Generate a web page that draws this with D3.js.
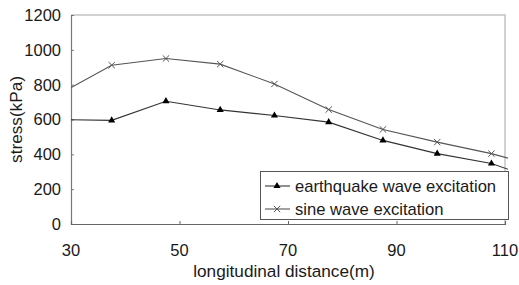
<!DOCTYPE html>
<html>
<head>
<meta charset="utf-8">
<script src="https://cdn.jsdelivr.net/npm/d3@7"></script>
<style>
  body { margin: 0; background: #fff; }
  text { font-family: "Liberation Sans", Arial, sans-serif; fill: #1a1a1a; }
</style>
</head>
<body>
<div id="chart"></div>
<script>
// distances (m) of the data points; first and last fall outside the axis and get clipped
const distances = [27.5, 37.5, 47.5, 57.5, 67.5, 77.5, 87.5, 97.5, 107.5, 117.5];
const earthquake = [600, 595, 705, 655, 623, 585, 480, 404, 347, 240];
const sine = [740, 912, 950, 918, 804, 657, 543, 470, 404, 320];
const xTicks = [30, 50, 70, 90, 110];
const yTicks = [0, 200, 400, 600, 800, 1000, 1200];
const seriesNames = ["earthquake wave excitation", "sine wave excitation"];

const width = 519, height = 285;
const margin = {top: 15, right: 14, bottom: 61, left: 71};

let svg = d3.select("#chart").append("svg")
    .attr("width", width)
    .attr("height", height);

let x = d3.scaleLinear().domain([30, 110]).range([margin.left, width - margin.right]);
let y = d3.scaleLinear().domain([0, 1200]).range([height - margin.bottom, margin.top]);

// frame: light top/right border
svg.append("path")
    .attr("d", "M" + x(30) + "," + y(1200) + "H" + x(110) + "V" + y(0))
    .attr("fill", "none")
    .attr("stroke", "#c4c4c4")
    .attr("stroke-width", 1.5);

let yAxis = svg.append("g")
    .attr("transform", "translate(" + margin.left + ",0)")
    .call(d3.axisRight(y).tickValues(yTicks).tickSize(3).tickFormat(""));
yAxis.select(".domain").attr("stroke", "#777").attr("stroke-width", 1.2);
yAxis.selectAll(".tick line").attr("stroke", "#777");

let xAxis = svg.append("g")
    .attr("transform", "translate(0," + y(0) + ")")
    .call(d3.axisTop(x).tickValues(xTicks).tickSize(3).tickFormat(""));
xAxis.select(".domain").attr("stroke", "#666").attr("stroke-width", 1.2);
xAxis.selectAll(".tick line").attr("stroke", "#666");

// tick labels
svg.selectAll(".ylab").data(yTicks).enter().append("text")
    .attr("class", "ylab")
    .attr("x", 61)
    .attr("y", d => y(d))
    .attr("dy", "0.36em")
    .attr("text-anchor", "end")
    .attr("font-size", 16.5)
    .text(d => d);

svg.selectAll(".xlab").data(xTicks).enter().append("text")
    .attr("class", "xlab")
    .attr("x", d => x(d))
    .attr("y", 256)
    .attr("text-anchor", "middle")
    .attr("font-size", 16.5)
    .text(d => d);

svg.append("text")
    .attr("x", 284)
    .attr("y", 277)
    .attr("text-anchor", "middle")
    .attr("font-size", 17.2)
    .text("longitudinal distance(m)");

svg.append("text")
    .attr("transform", "translate(22," + y(600) + ") rotate(-90)")
    .attr("text-anchor", "middle")
    .attr("font-size", 17.2)
    .text("stress(kPa)");

svg.append("clipPath").attr("id", "clip")
    .append("rect")
    .attr("x", x(30))
    .attr("y", y(1200))
    .attr("width", x(110) - x(30) + 3)
    .attr("height", y(0) - y(1200));

let line = d3.line().x(d => x(d[0])).y(d => y(d[1]));
let plot = svg.append("g").attr("clip-path", "url(#clip)");

let eqData = distances.map((d, i) => [d, earthquake[i]]);
let sineData = distances.map((d, i) => [d, sine[i]]);

plot.append("path").datum(sineData)
    .attr("d", line).attr("fill", "none").attr("stroke", "#555").attr("stroke-width", 1.1);
plot.append("path").datum(eqData)
    .attr("d", line).attr("fill", "none").attr("stroke", "#333").attr("stroke-width", 1.1);

let tri = d3.symbol().type(d3.symbolTriangle).size(22);
let cross = d3.symbol().type(d3.symbolX).size(28);

plot.selectAll(".tri").data(eqData).enter().append("path")
    .attr("class", "tri")
    .attr("transform", d => "translate(" + x(d[0]) + "," + y(d[1]) + ")")
    .attr("d", tri)
    .attr("fill", "#000");

plot.selectAll(".cross").data(sineData).enter().append("path")
    .attr("class", "cross")
    .attr("transform", d => "translate(" + x(d[0]) + "," + y(d[1]) + ")")
    .attr("d", cross)
    .attr("fill", "none")
    .attr("stroke", "#555")
    .attr("stroke-width", 1);

// legend
let legend = svg.append("g");
legend.append("rect")
    .attr("x", 260.5).attr("y", 171.5)
    .attr("width", 248).attr("height", 48)
    .attr("fill", "#fff")
    .attr("stroke", "#555")
    .attr("stroke-width", 1);

let rows = legend.selectAll(".row").data(seriesNames).enter().append("g")
    .attr("transform", (d, i) => "translate(0," + (186 + i * 23) + ")");
rows.append("line")
    .attr("x1", 265).attr("x2", 290)
    .attr("stroke", (d, i) => i == 0 ? "#333" : "#555")
    .attr("stroke-width", 1.1);
rows.append("path")
    .attr("transform", "translate(277,0)")
    .attr("d", (d, i) => i == 0 ? tri() : cross())
    .attr("fill", (d, i) => i == 0 ? "#000" : "none")
    .attr("stroke", (d, i) => i == 0 ? "none" : "#555");
rows.append("text")
    .attr("x", 295)
    .attr("dy", "0.36em")
    .attr("font-size", 16.6)
    .text(d => d);
</script>
</body>
</html>
